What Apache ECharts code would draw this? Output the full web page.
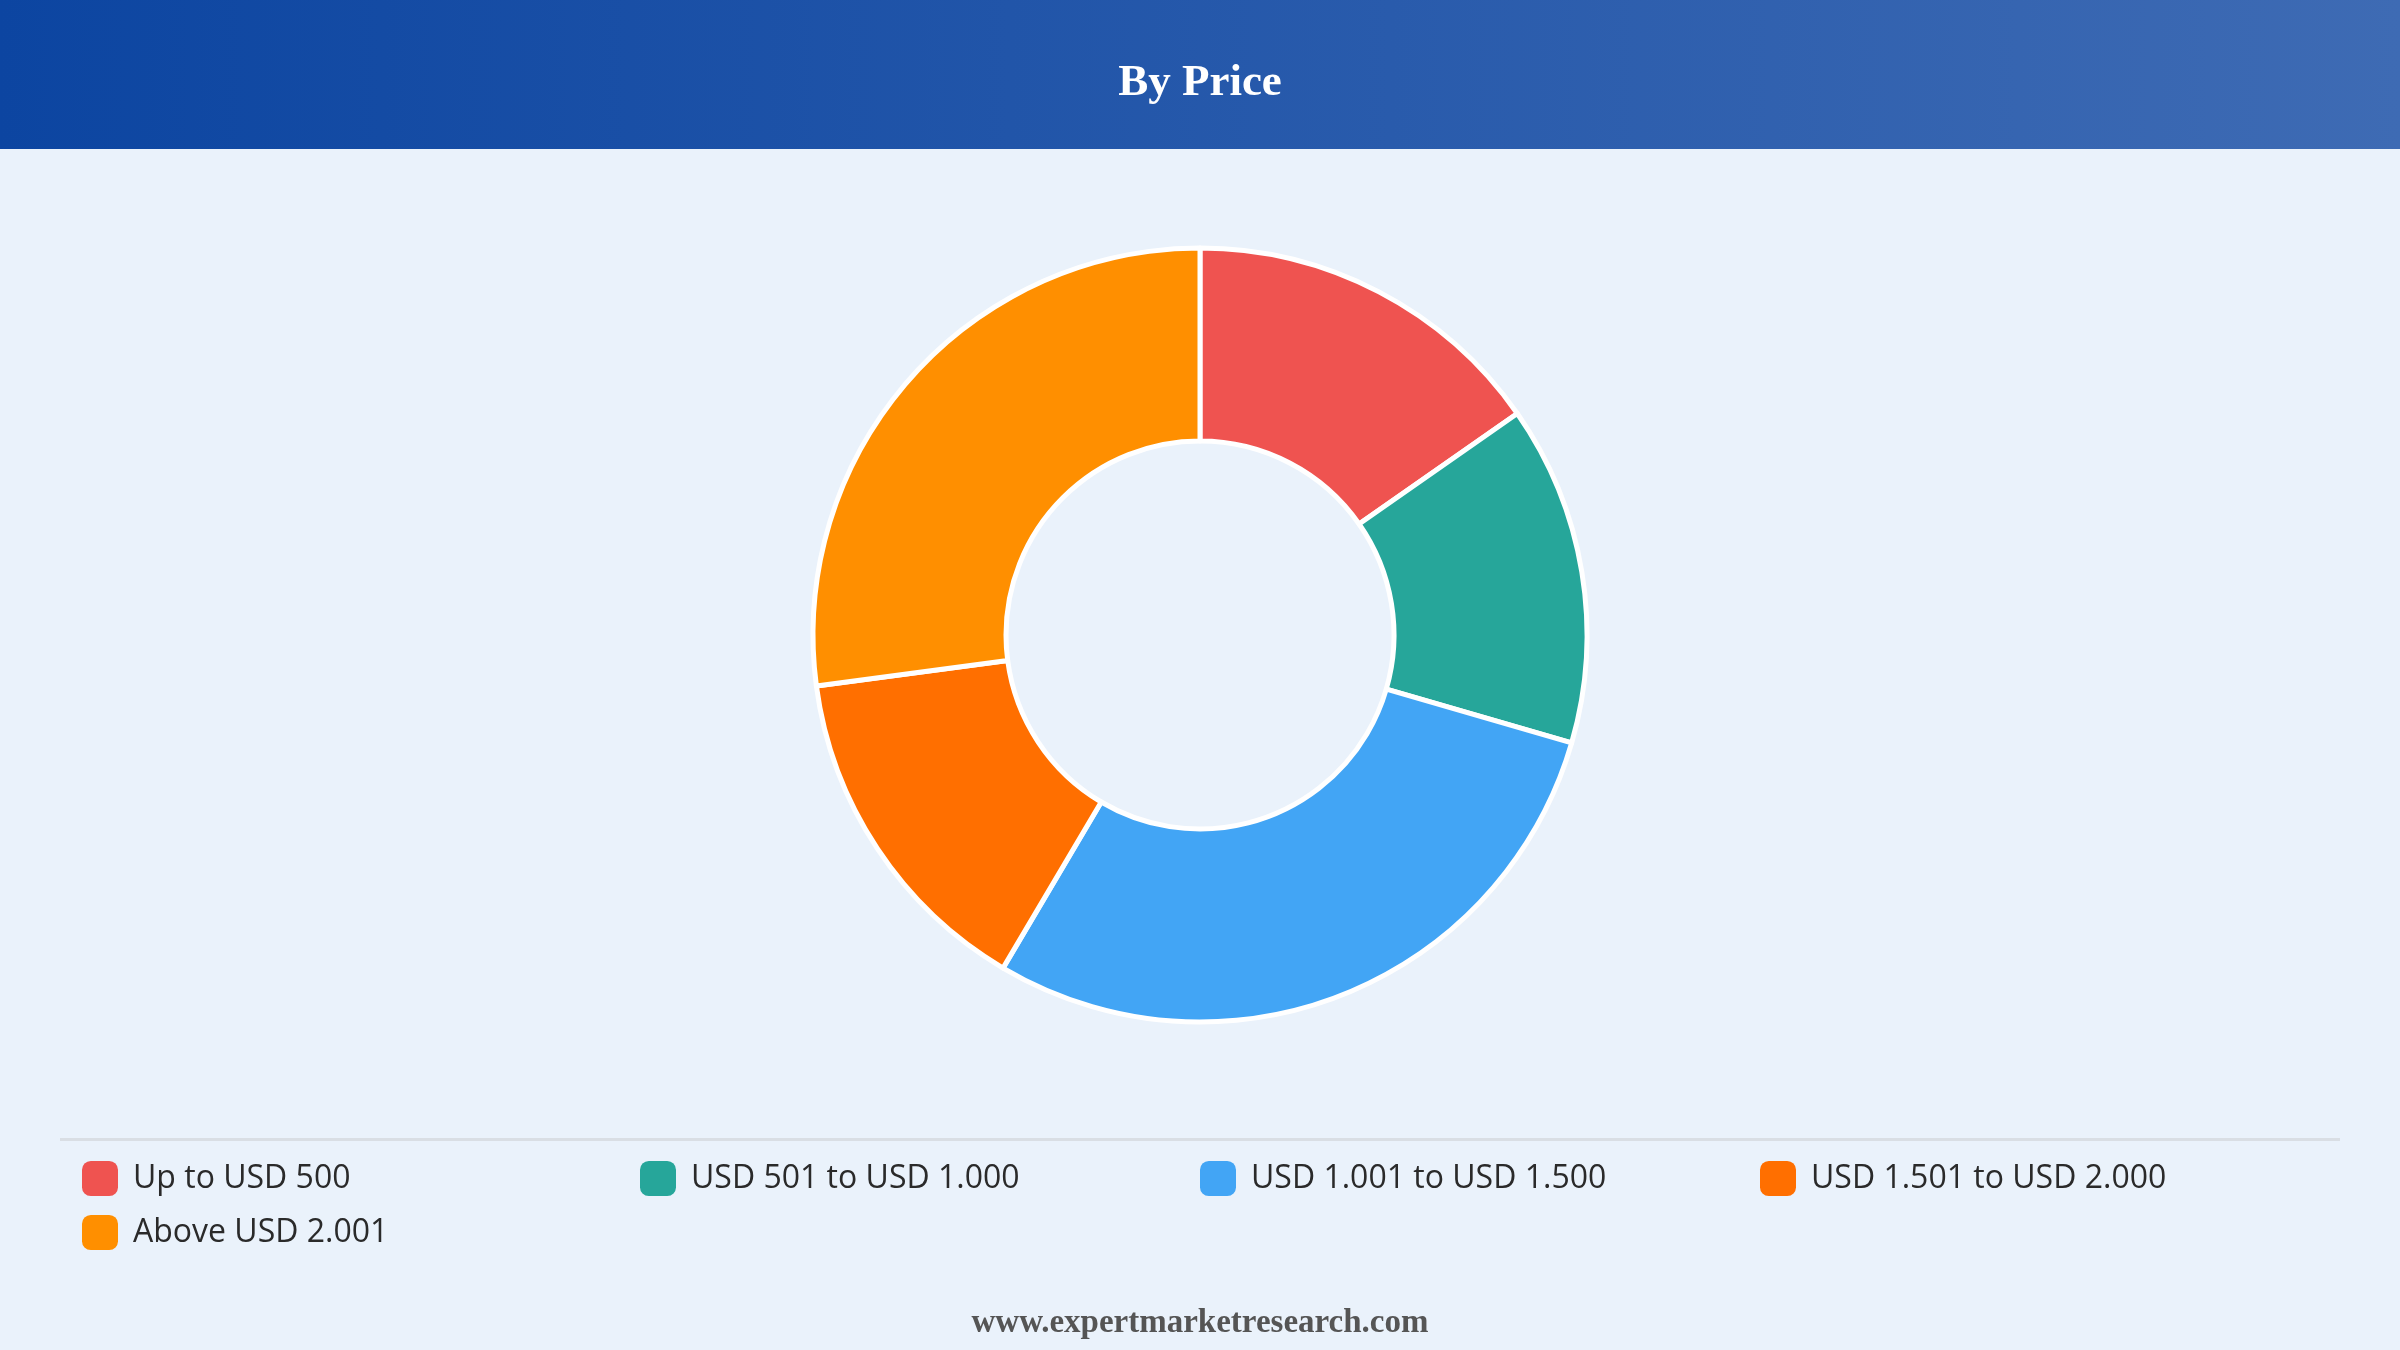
<!DOCTYPE html>
<html>
<head>
<meta charset="utf-8">
<script src="https://cdn.jsdelivr.net/npm/echarts@6/dist/echarts.min.js"></script>
<style>
html,body{margin:0;padding:0;background:#EAF2FB;}
#chart{width:2400px;height:1350px;}
</style>
</head>
<body>
<div id="chart"></div>
<script>
const titleText = 'By Price';
const footerText = 'www.expertmarketresearch.com';
const categories = ['Up to USD 500', 'USD 501 to USD 1.000', 'USD 1.001 to USD 1.500', 'USD 1.501 to USD 2.000', 'Above USD 2.001'];
const values = [15.3, 14.2, 29.0, 14.4, 27.1];
const colors = ['#EF5350', '#26A69A', '#42A5F5', '#FF6F00', '#FF8F00'];

const legendPos = [
  {left: 82, top: 1161},
  {left: 640, top: 1161},
  {left: 1200, top: 1161},
  {left: 1760, top: 1161},
  {left: 82, top: 1215}
];

const chart = echarts.init(document.getElementById('chart'));
const legends = categories.map((c, i) => ({
  left: legendPos[i].left,
  top: legendPos[i].top,
  padding: 0,
  orient: 'horizontal',
  data: [c],
  icon: 'roundRect',
  itemWidth: 36,
  itemHeight: 35,
  itemStyle: {borderWidth: 0},
  selectedMode: false,
  textStyle: {
    fontFamily: 'Open Sans',
    fontSize: 32,
    fontWeight: 500,
    color: '#2A2A2A',
    padding: [0, 0, 0, 10]
  }
}));

chart.setOption({
  backgroundColor: '#EAF2FB',
  color: colors,
  graphic: [
    {
      type: 'rect',
      left: 0, top: 0, z: 0,
      shape: {width: 2400, height: 149},
      style: {
        fill: new echarts.graphic.LinearGradient(0, 0, 1, 0, [
          {offset: 0, color: '#0C45A1'},
          {offset: 1, color: '#3E6BB4'}
        ])
      }
    },
    {
      type: 'text',
      left: 'center', top: 61, z: 2,
      style: {
        text: titleText,
        fill: '#FFFFFF',
        font: 'bold 45px "Liberation Serif", "Times New Roman", serif'
      }
    },
    {
      type: 'rect',
      left: 60, top: 1138, z: 1,
      shape: {width: 2280, height: 3},
      style: {fill: '#D9DEE4'}
    },
    {
      type: 'text',
      left: 'center', top: 1307, z: 2,
      style: {
        text: footerText,
        fill: '#555555',
        font: 'bold 33px "Liberation Serif", "Times New Roman", serif'
      }
    }
  ],
  legend: legends,
  series: [{
    type: 'pie',
    center: [1200, 635],
    radius: [194, 387],
    startAngle: 90,
    clockwise: true,
    silent: true,
    label: {show: false},
    labelLine: {show: false},
    itemStyle: {borderColor: '#FFFFFF', borderWidth: 5},
    data: categories.map((c, i) => ({name: c, value: values[i]}))
  }]
});
</script>
</body>
</html>
